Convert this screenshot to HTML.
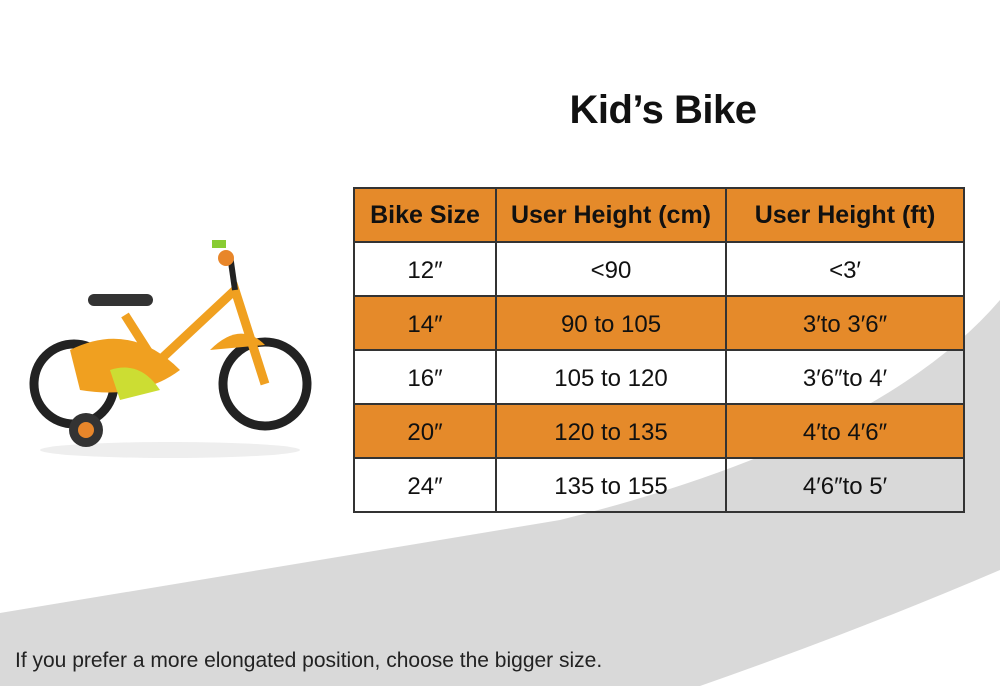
<!DOCTYPE html>
<html><head><meta charset="utf-8"><style>
body{margin:0;width:1000px;height:686px;overflow:hidden;background:#fff;font-family:"Liberation Sans",sans-serif;position:relative}
#bg{position:absolute;left:0;top:0}
h1{position:absolute;left:0;width:1326px;top:88px;margin:0;text-align:center;font-size:40px;font-weight:bold;color:#111;letter-spacing:-0.5px}
table{position:absolute;left:353px;top:187px;border-collapse:collapse;width:612px}
td,th{border:2px solid #333;text-align:center;height:52px;padding:0;font-size:24px;color:#111}
td{padding-top:4px;height:48px}
th{font-size:25px;font-weight:bold;background:#e58a2a}
tr.o td{background:#e58a2a}
tr.w td{background:transparent}
.note{position:absolute;left:15px;top:649px;font-size:21px;color:#222}
</style></head><body>
<svg id="bg" width="1000" height="686">
<path d="M0,613 Q320,560 560,520 Q880,440 1000,300 L1000,570 Q860,630 700,686 L0,686 Z" fill="#d9d9d9"/>
</svg>
<svg width="340" height="260" style="position:absolute;left:0;top:220px">
<ellipse cx="170" cy="230" rx="130" ry="8" fill="#eee"/>
<circle cx="74" cy="164" r="40" fill="none" stroke="#222" stroke-width="9"/>
<circle cx="265" cy="164" r="42" fill="none" stroke="#222" stroke-width="9"/>
<circle cx="86" cy="210" r="17" fill="#333"/><circle cx="86" cy="210" r="8" fill="#e8862a"/>
<path d="M80,150 L160,140 L235,70 L265,164" stroke="#f0a020" stroke-width="9" fill="none"/>
<path d="M125,95 L160,150" stroke="#f0a020" stroke-width="9"/>
<path d="M70,130 Q130,100 180,150 Q140,180 80,170 Z" fill="#f0a020"/>
<path d="M210,130 Q240,100 265,125 Z" fill="#f0a020"/>
<rect x="88" y="74" width="65" height="12" rx="6" fill="#333"/>
<path d="M235,70 L230,35" stroke="#222" stroke-width="6"/>
<circle cx="226" cy="38" r="8" fill="#e8862a"/><rect x="212" y="20" width="14" height="8" fill="#8c3"/>
<path d="M110,150 Q140,140 160,170 L120,180Z" fill="#cd3"/>
</svg>
<h1>Kid’s Bike</h1>
<table>
<tr><th style="width:140px">Bike Size</th><th style="width:228px">User Height (cm)</th><th>User Height (ft)</th></tr>
<tr class="w"><td>12″</td><td>&lt;90</td><td>&lt;3′</td></tr>
<tr class="o"><td>14″</td><td>90 to 105</td><td>3′to 3′6″</td></tr>
<tr class="w"><td>16″</td><td>105 to 120</td><td>3′6″to 4′</td></tr>
<tr class="o"><td>20″</td><td>120 to 135</td><td>4′to 4′6″</td></tr>
<tr class="w"><td>24″</td><td>135 to 155</td><td>4′6″to 5′</td></tr>
</table>
<div class="note">If you prefer a more elongated position, choose the bigger size.</div>
</body></html>
